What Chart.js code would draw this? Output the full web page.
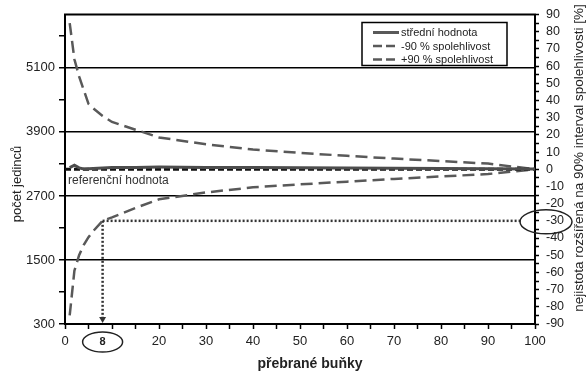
<!DOCTYPE html>
<html>
<head>
<meta charset="utf-8">
<script src="https://cdn.jsdelivr.net/npm/chart.js@4.4.0/dist/chart.umd.min.js"></script>
<style>
  html, body { margin: 0; padding: 0; background: #fff; }
  #wrap { width: 587px; height: 371px; }
</style>
</head>
<body>
<div id="wrap"><canvas id="chart" width="587" height="371"></canvas></div>
<script>
// number of processed cells
const cells = [1, 2, 3, 4, 5, 6, 8, 10, 15, 20, 30, 40, 50, 60, 70, 80, 90, 100];
// mean count (left axis)
const meanCount = [3230, 3275, 3225, 3205, 3210, 3215, 3225, 3235, 3235, 3240, 3235, 3232, 3230, 3225, 3220, 3215, 3210, 3205];
// 90 % limits in percent (right axis)
const lower90 = [-85, -59, -50, -44, -39.5, -36, -30, -28, -22.5, -17.5, -13.5, -10.5, -8.8, -7.2, -5.6, -4.2, -2.8, 0];
const upper90 = [85, 64, 54, 46, 38, 35.5, 31, 27.5, 23, 18.5, 14.5, 11.5, 9.5, 7.8, 6.2, 4.8, 3.3, 0];

const referenceCount = 3200;
const countTicks = [300, 1500, 2700, 3900, 5100];
const countMinor = [900, 2100, 3300, 4500, 5700];
const markedCell = 8;
const markedPct = -30;
const dotEnd = 97;

const font = '"Liberation Sans", Arial, sans-serif';
const ink = '#222';
const curveGray = '#595959';

const pts = (ys) => cells.map((c, i) => ({ x: c, y: ys[i] }));

const decorations = {
  id: 'decorations',
  afterDraw(chart) {
    const { ctx, chartArea: a, scales } = chart;
    const xs = scales.x, yr = scales.yPct;
    ctx.save();

    // frame top edge
    ctx.strokeStyle = '#000';
    ctx.lineWidth = 2;
    ctx.beginPath();
    ctx.moveTo(a.left - 1, a.top);
    ctx.lineTo(a.right + 1, a.top);
    ctx.stroke();

    // arrow head on the dotted drop line
    const ax = xs.getPixelForValue(markedCell);
    ctx.fillStyle = '#333';
    ctx.beginPath();
    ctx.moveTo(ax - 3.5, a.bottom - 7);
    ctx.lineTo(ax + 3.5, a.bottom - 7);
    ctx.lineTo(ax, a.bottom - 1);
    ctx.closePath();
    ctx.fill();

    // marked value under the x axis
    ctx.fillStyle = ink;
    ctx.font = 'bold 11px ' + font;
    ctx.textAlign = 'center';
    ctx.textBaseline = 'middle';
    ctx.fillText(String(markedCell), ax, a.bottom + 18);

    // ellipses around the marked values
    ctx.strokeStyle = ink;
    ctx.lineWidth = 1.5;
    ctx.beginPath();
    ctx.ellipse(ax, a.bottom + 18, 20, 10, 0, 0, Math.PI * 2);
    ctx.stroke();
    ctx.beginPath();
    ctx.ellipse(a.right + 11, yr.getPixelForValue(markedPct) + 1, 26, 12, 0, 0, Math.PI * 2);
    ctx.stroke();

    // reference label
    ctx.fillStyle = '#333';
    ctx.font = '12px ' + font;
    ctx.textAlign = 'left';
    ctx.fillText('referenční hodnota', a.left + 3, scales.yCount.getPixelForValue(referenceCount) + 11);

    // axis titles
    ctx.fillStyle = ink;
    ctx.font = '13px ' + font;
    ctx.save();
    ctx.translate(17, 184);
    ctx.rotate(-Math.PI / 2);
    ctx.textAlign = 'center';
    ctx.fillText('počet jedinců', 0, 0);
    ctx.restore();

    ctx.save();
    ctx.font = '13.5px ' + font;
    ctx.translate(579, 158);
    ctx.rotate(-Math.PI / 2);
    ctx.textAlign = 'center';
    ctx.fillText('nejistota rozšířená na 90% interval spolehlivosti [%]', 0, 0);
    ctx.restore();

    ctx.font = 'bold 14px ' + font;
    ctx.textAlign = 'center';
    ctx.fillText('přebrané buňky', 310, 364);

    // legend box
    const lx = a.left + 297, ly = a.top + 8;
    ctx.fillStyle = '#fff';
    ctx.fillRect(lx, ly, 145, 43);
    ctx.strokeStyle = '#000';
    ctx.lineWidth = 1.5;
    ctx.strokeRect(lx, ly, 145, 43);
    const rows = [
      { label: 'střední hodnota', dash: [], w: 3 },
      { label: '-90 % spolehlivost', dash: [9, 4], w: 2.5 },
      { label: '+90 % spolehlivost', dash: [9, 4], w: 2.5 }
    ];
    ctx.font = '11px ' + font;
    ctx.textAlign = 'left';
    rows.forEach((r, i) => {
      const y = ly + 10 + i * 13.5;
      ctx.strokeStyle = curveGray;
      ctx.lineWidth = r.w;
      ctx.setLineDash(r.dash);
      ctx.beginPath();
      ctx.moveTo(lx + 11, y);
      ctx.lineTo(lx + 37, y);
      ctx.stroke();
      ctx.setLineDash([]);
      ctx.fillStyle = ink;
      ctx.fillText(r.label, lx + 39, y + 0.5);
    });

    ctx.restore();
  }
};

new Chart(document.getElementById('chart'), {
  type: 'line',
  data: {
    datasets: [
      {
        label: 'střední hodnota',
        data: pts(meanCount),
        yAxisID: 'yCount',
        borderColor: '#4d4d4d',
        borderWidth: 3,
        order: 0
      },
      {
        label: 'referenční hodnota',
        data: [{ x: 0, y: referenceCount }, { x: 100, y: referenceCount }],
        yAxisID: 'yCount',
        borderColor: '#111',
        borderWidth: 3,
        borderDash: [6, 3],
        order: 1
      },
      {
        label: '-90 % spolehlivost',
        data: pts(lower90),
        yAxisID: 'yPct',
        borderColor: curveGray,
        borderWidth: 2.5,
        borderDash: [12, 6],
        order: 2
      },
      {
        label: '+90 % spolehlivost',
        data: pts(upper90),
        yAxisID: 'yPct',
        borderColor: curveGray,
        borderWidth: 2.5,
        borderDash: [12, 6],
        order: 2
      },
      {
        label: 'drop',
        data: [{ x: markedCell, y: markedPct }, { x: markedCell, y: -86 }],
        yAxisID: 'yPct',
        borderColor: '#333',
        borderWidth: 2.5,
        borderDash: [2, 2],
        order: 3
      },
      {
        label: 'across',
        data: [{ x: markedCell, y: markedPct }, { x: dotEnd, y: markedPct }],
        yAxisID: 'yPct',
        borderColor: '#333',
        borderWidth: 2.5,
        borderDash: [2, 2],
        order: 3
      }
    ]
  },
  options: {
    responsive: false,
    animation: false,
    devicePixelRatio: 1,
    layout: { padding: { top: 12, left: 0, right: 0, bottom: 0 } },
    elements: { point: { radius: 0 }, line: { tension: 0 } },
    plugins: { legend: { display: false }, tooltip: { enabled: false } },
    scales: {
      x: {
        type: 'linear',
        min: 0,
        max: 100,
        afterBuildTicks: (s) => {
          const t = [];
          for (let v = 0; v <= 100; v += 5) t.push({ value: v });
          s.ticks = t;
        },
        afterFit: (s) => { s.height = 47; },
        ticks: {
          autoSkip: false,
          maxRotation: 0,
          padding: 5,
          color: ink,
          font: { family: font, size: 13 },
          callback: (v) => (v % 10 === 0 && v !== 10 ? v : '')
        },
        grid: { drawOnChartArea: false, tickLength: 5, tickColor: '#000', tickWidth: 1.5 },
        border: { color: '#000', width: 2 }
      },
      yCount: {
        type: 'linear',
        position: 'left',
        min: 300,
        max: 6100,
        afterBuildTicks: (s) => {
          s.ticks = countTicks.concat(countMinor).sort((p, q) => p - q).map(v => ({ value: v }));
        },
        afterFit: (s) => { s.width = 65; },
        ticks: {
          autoSkip: false,
          padding: 4,
          color: ink,
          font: { family: font, size: 13 },
          callback: (v) => (countTicks.includes(v) ? v : '')
        },
        grid: {
          color: (c) => (c.tick && countTicks.includes(c.tick.value) && c.tick.value !== 300 ? '#000' : 'rgba(0,0,0,0)'),
          lineWidth: 1.5,
          tickLength: 6,
          tickColor: '#000',
          tickWidth: 1.5
        },
        border: { color: '#000', width: 2 }
      },
      yPct: {
        type: 'linear',
        position: 'right',
        min: -90,
        max: 90,
        afterBuildTicks: (s) => {
          const t = [];
          for (let v = -90; v <= 90; v += 5) t.push({ value: v });
          s.ticks = t;
        },
        afterFit: (s) => { s.width = 52; },
        ticks: {
          autoSkip: false,
          padding: 7,
          color: ink,
          font: { family: font, size: 12.5 },
          callback: (v) => (v % 10 === 0 ? v : '')
        },
        grid: { drawOnChartArea: false, tickLength: 4, tickColor: '#000', tickWidth: 1.5 },
        border: { color: '#000', width: 2 }
      }
    }
  },
  plugins: [decorations]
});
</script>
</body>
</html>
